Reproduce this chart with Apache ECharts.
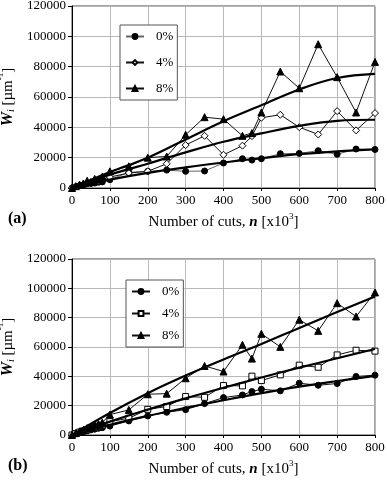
<!DOCTYPE html>
<html>
<head>
<meta charset="utf-8">
<script src="https://cdn.jsdelivr.net/npm/echarts@6/dist/echarts.min.js"></script>
<style>
  html, body { margin: 0; padding: 0; background: #fff; }
  #main { width: 387px; height: 480px; }
</style>
</head>
<body>
<div id="main"></div>
<script>
// cuts (x10^3) where wear was measured
var cutsA = [0, 10, 20, 30, 40, 50, 60, 70, 80, 100, 150, 200, 250, 300, 350, 400, 450, 475, 500, 550, 600, 650, 700, 750, 800];
var a0 = [0, 800, 1500, 2000, 2800, 3000, 3300, 3800, 4000, 5500, 10300, 11000, 11800, 11000, 11200, 16500, 19300, 18400, 19300, 22600, 22800, 24600, 22200, 25700, 25400];
var a4 = [0, 1000, 1800, 2500, 3500, 3500, 4800, 4500, 5800, 7200, 9900, 11000, 16000, 28300, 34400, 21900, 27900, 34200, 46300, 48300, 40100, 35300, 50700, 38000, 49400];
var a8 = [0, 1200, 2200, 3000, 4800, 4000, 6000, 5500, 7500, 11000, 14300, 20000, 20800, 35100, 46700, 45400, 34400, 36200, 49800, 76800, 65800, 94800, 73100, 49800, 83100];

var cutsB = [0, 10, 20, 30, 40, 50, 60, 70, 80, 100, 150, 200, 250, 300, 350, 400, 450, 475, 500, 550, 600, 650, 700, 750, 800];
var b0 = [0, 800, 1500, 2300, 2800, 3500, 4000, 4600, 5000, 6100, 9600, 13000, 15500, 17300, 21400, 25500, 27300, 29600, 31200, 30100, 35300, 33900, 35100, 39900, 40800];
var b4 = [0, 1000, 2000, 2800, 3600, 4400, 5200, 6000, 6600, 9100, 11400, 17500, 19400, 26200, 25700, 33700, 33500, 40100, 37100, 41000, 47600, 46200, 54600, 57800, 57200];
var b8 = [0, 1300, 2500, 3500, 4700, 5500, 6800, 7500, 8500, 13900, 17100, 27800, 28200, 38700, 47100, 43300, 61500, 52100, 69000, 60100, 78600, 71000, 89900, 80800, 97200];

// fitted trend curves
var fitX = [0, 100, 200, 300, 400, 500, 600, 700, 800];
var fitA0 = [0, 5500, 10000, 13600, 16800, 19700, 22300, 24200, 25500];
var fitA4 = [0, 8800, 16000, 23500, 30500, 36000, 41000, 44300, 45000];
var fitA8 = [0, 10500, 20000, 32000, 44000, 54500, 65000, 72500, 75200];
var fitB0 = [0, 6900, 13000, 18500, 23700, 28500, 33000, 36800, 40300];
var fitB4 = [0, 9100, 17300, 25000, 32200, 39200, 45900, 52300, 58600];
var fitB8 = [0, 15000, 28500, 40500, 51500, 62000, 73000, 83800, 94500];

var serif = 'Liberation Serif';

function pairs(xs, ys) {
    return xs.map(function (x, i) { return [x, ys[i]]; });
}

function dataSeries(name, idx, xs, ys, symbol, size, filled, lineColor) {
    return {
        name: name,
        type: 'line',
        xAxisIndex: idx,
        yAxisIndex: idx,
        data: pairs(xs, ys),
        symbol: symbol,
        symbolSize: size,
        showAllSymbol: true,
        lineStyle: { color: lineColor || '#111', width: 1 },
        itemStyle: {
            color: filled ? '#000' : '#fff',
            borderColor: '#000',
            borderWidth: 1
        },
        z: 3,
        animation: false
    };
}

function fitSeries(idx, ys) {
    return {
        name: 'fit',
        type: 'line',
        xAxisIndex: idx,
        yAxisIndex: idx,
        data: pairs(fitX, ys),
        smooth: 0.4,
        symbol: 'none',
        lineStyle: { color: '#000', width: 2.2 },
        z: 4,
        silent: true,
        animation: false
    };
}

function xAxis(idx) {
    return {
        type: 'value',
        gridIndex: idx,
        min: 0,
        max: 800,
        interval: 100,
        name: '{t|Number of cuts, }{n|n}{t| [x10}{s|3}{t|]}',
        nameLocation: 'middle',
        nameGap: 24,
        nameTextStyle: {
            rich: {
                t: { fontFamily: serif, fontSize: 15, color: '#000', lineHeight: 18, verticalAlign: 'bottom' },
                n: { fontFamily: serif, fontSize: 15, fontWeight: 'bold', fontStyle: 'italic', color: '#000', lineHeight: 18, verticalAlign: 'bottom' },
                s: { fontFamily: serif, fontSize: 9, color: '#000', lineHeight: 18, verticalAlign: 'top' }
            }
        },
        axisLine: { lineStyle: { color: '#000', width: 1 } },
        axisTick: { show: true, length: 3, lineStyle: { color: '#000' } },
        axisLabel: { fontFamily: serif, fontSize: 13, color: '#000', margin: 6 },
        splitLine: { show: true, lineStyle: { color: '#b8b8b8', width: 1 } }
    };
}

function yAxis(idx) {
    return {
        type: 'value',
        gridIndex: idx,
        min: 0,
        max: 120000,
        interval: 20000,
        name: '{w|W}{i|i}{t| [µm}{s|-1}{t|]}',
        nameLocation: 'middle',
        nameRotate: 90,
        nameGap: 56,
        nameTextStyle: {
            rich: {
                w: { fontFamily: serif, fontSize: 16, fontWeight: 'bold', fontStyle: 'italic', color: '#000', lineHeight: 20, verticalAlign: 'bottom' },
                i: { fontFamily: serif, fontSize: 10, fontStyle: 'italic', color: '#000', lineHeight: 20, verticalAlign: 'bottom' },
                t: { fontFamily: serif, fontSize: 15, color: '#000', lineHeight: 20, verticalAlign: 'bottom' },
                s: { fontFamily: serif, fontSize: 9, color: '#000', lineHeight: 20, verticalAlign: 'top' }
            }
        },
        axisLine: { show: true, lineStyle: { color: '#000', width: 1 } },
        axisTick: { show: true, length: 4, lineStyle: { color: '#000' } },
        axisLabel: {
            fontFamily: serif, fontSize: 13, color: '#000', margin: 6,
            formatter: function (v) { return String(v); }
        },
        splitLine: { show: true, lineStyle: { color: '#b8b8b8', width: 1 } }
    };
}

function legend(left, top, gap, itemH, names) {
    return {
        data: names,
        orient: 'vertical',
        left: left,
        top: top,
        itemWidth: 18,
        itemHeight: itemH,
        itemGap: gap,
        padding: [5, 4, 5, 5],
        borderColor: '#555',
        borderWidth: 1,
        backgroundColor: '#fff',
        selectedMode: false,
        formatter: function (name) { return name.trim(); },
        textStyle: { fontFamily: serif, fontSize: 13, color: '#000', padding: [0, 0, 0, 7] }
    };
}

var chart = echarts.init(document.getElementById('main'), null, { renderer: 'canvas' });

var option = {
    backgroundColor: '#fff',
    animation: false,
    grid: [
        { left: 72, right: 12, top: 6, height: 182, show: true, borderColor: '#444', borderWidth: 1, backgroundColor: 'transparent', outerBoundsMode: 'none', containLabel: false },
        { left: 72, right: 12, top: 259, height: 176, show: true, borderColor: '#444', borderWidth: 1, backgroundColor: 'transparent', outerBoundsMode: 'none', containLabel: false }
    ],
    xAxis: [xAxis(0), xAxis(1)],
    yAxis: [yAxis(0), yAxis(1)],
    legend: [
        legend(120, 25, 13, 6, ['0%', '4%', '8%']),
        legend(126, 280, 9, 6, ['0% ', '4% ', '8% '])
    ],
    graphic: [
        { type: 'text', left: 8, top: 211, style: { text: '(a)', font: 'bold 16px "Liberation Serif"', fill: '#000' } },
        { type: 'text', left: 8, top: 458, style: { text: '(b)', font: 'bold 16px "Liberation Serif"', fill: '#000' } }
    ],
    series: [
        dataSeries('0%', 0, cutsA, a0, 'circle', 6, true, '#666'),
        dataSeries('4%', 0, cutsA, a4, 'diamond', 7, false),
        dataSeries('8%', 0, cutsA, a8, 'triangle', 7, true),
        fitSeries(0, fitA0),
        fitSeries(0, fitA4),
        fitSeries(0, fitA8),
        dataSeries('0% ', 1, cutsB, b0, 'circle', 6, true),
        dataSeries('4% ', 1, cutsB, b4, 'rect', 6, false),
        dataSeries('8% ', 1, cutsB, b8, 'triangle', 7, true),
        fitSeries(1, fitB0),
        fitSeries(1, fitB4),
        fitSeries(1, fitB8)
    ]
};

chart.setOption(option);
</script>
</body>
</html>
